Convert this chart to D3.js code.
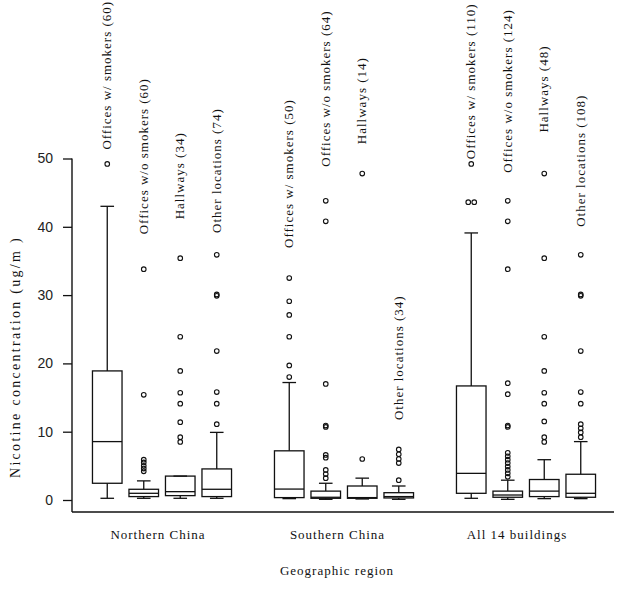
<!DOCTYPE html>
<html>
<head>
<meta charset="utf-8">
<script src="https://cdn.jsdelivr.net/npm/d3@7/dist/d3.min.js"></script>
<style>
  html, body { margin: 0; padding: 0; background: #fff; }
  svg { display: block; }
  .serif { font-family: "Liberation Serif", "Times New Roman", serif; fill: #111; }
</style>
</head>
<body>
<svg id="chart" width="624" height="589"></svg>
<script>
// ---------- data ----------
const groups = ["Northern China", "Southern China", "All 14 buildings"];
const locations = ["Offices w/ smokers", "Offices w/o smokers", "Hallways", "Other locations"];
const counts = [[60, 60, 34, 74], [50, 64, 14, 34], [110, 124, 48, 108]];

const whiskerLow  = [[0.25, 0.25, 0.25, 0.25], [0.2, 0.1, 0.15, 0.1], [0.25, 0.1, 0.2, 0.2]];
const q1          = [[2.45, 0.5, 0.64, 0.5], [0.35, 0.25, 0.25, 0.3], [0.98, 0.4, 0.5, 0.4]];
const medians     = [[8.55, 0.98, 1.22, 1.57], [1.6, 0.4, 0.35, 0.5], [3.9, 0.73, 1.3, 0.98]];
const q3          = [[18.9, 1.57, 3.5, 4.55], [7.2, 1.3, 2.05, 1.07], [16.7, 1.3, 3.0, 3.77]];
const whiskerHigh = [[43.0, 2.8, 3.5, 9.9], [17.2, 2.45, 3.2, 2.05], [39.1, 2.9, 5.9, 8.55]];

const outliers = [
  [
    [49.2],
    [4.2, 4.6, 5.0, 5.5, 5.9, 15.4, 33.8],
    [8.5, 9.2, 11.4, 14.1, 15.7, 18.9, 23.9, 35.4],
    [11.1, 14.1, 15.8, 21.8, 29.9, 30.1, 35.9]
  ],
  [
    [18.0, 19.7, 23.9, 27.1, 29.1, 32.5],
    [3.2, 3.8, 4.4, 6.2, 6.6, 10.7, 10.9, 17.0, 40.8, 43.8],
    [6.0, 47.8],
    [2.9, 5.4, 6.0, 6.7, 7.4]
  ],
  [
    [43.6, 43.6, 49.2],
    [3.4, 3.9, 4.4, 4.9, 5.4, 5.9, 6.4, 6.9, 10.7, 10.9, 15.5, 17.1, 33.8, 40.8, 43.8],
    [8.5, 9.2, 11.5, 14.1, 15.7, 18.9, 23.9, 35.4, 47.8],
    [9.2, 9.9, 10.5, 11.1, 14.1, 15.8, 21.8, 29.9, 30.1, 35.9]
  ]
];
// value (in ug/m3) at which each rotated series label begins
const labelAt = [[51.3, 38.9, 41.1, 39.1], [36.9, 48.8, 52.1, 11.7], [49.9, 47.9, 53.8, 40.0]];

const yTicks = [0, 10, 20, 30, 40, 50];
const yTitle = "Nicotine concentration (ug/m )";
const xTitle = "Geographic region";

// ---------- layout ----------
const svg = d3.select("#chart");
const axisX = 72, baseY = 512, rightX = 614;
const y = d3.scaleLinear().domain([0, 50]).range([500, 158.5]);
const xGroup = d3.scalePoint().domain(groups).range([162, 526]);
const xLabel = d3.scalePoint().domain(groups).range([158, 517]);
const xInner = d3.scaleBand().domain(locations).range([-73, 73]);
const boxW = xInner.bandwidth() * 0.81;
const capW = boxW * 0.46;
const ink = "#111";
const sw = 1.3;

// axes lines
svg.append("line").attr("x1", axisX).attr("x2", axisX).attr("y1", y(50)).attr("y2", baseY)
  .attr("stroke", ink).attr("stroke-width", 1.4);
svg.append("line").attr("x1", axisX).attr("x2", rightX).attr("y1", baseY).attr("y2", baseY)
  .attr("stroke", ink).attr("stroke-width", 1.4);

const yAxis = svg.append("g").attr("transform", `translate(${axisX},0)`)
  .call(d3.axisLeft(y).tickValues(yTicks).tickSize(9).tickPadding(10).tickSizeOuter(0));
yAxis.select(".domain").remove();
yAxis.selectAll(".tick line").attr("stroke", ink).attr("stroke-width", 1.3);
yAxis.selectAll(".tick text").attr("font-family", "'Liberation Sans', Arial, sans-serif")
  .attr("font-size", 14).attr("fill", "#222");

// boxes
const items = [];
groups.forEach((g, gi) => locations.forEach((loc, li) => {
  items.push({ g, gi, loc, li, cx: xGroup(g) + xInner(loc) + xInner.bandwidth() / 2 });
}));

const box = svg.append("g").selectAll("g").data(items).join("g");
box.append("line")  // upper whisker
  .attr("x1", d => d.cx).attr("x2", d => d.cx)
  .attr("y1", d => y(q3[d.gi][d.li])).attr("y2", d => y(whiskerHigh[d.gi][d.li]))
  .attr("stroke", ink).attr("stroke-width", sw);
box.append("line")  // lower whisker
  .attr("x1", d => d.cx).attr("x2", d => d.cx)
  .attr("y1", d => y(q1[d.gi][d.li])).attr("y2", d => y(whiskerLow[d.gi][d.li]))
  .attr("stroke", ink).attr("stroke-width", sw);
box.append("line")  // upper cap
  .attr("x1", d => d.cx - capW / 2).attr("x2", d => d.cx + capW / 2)
  .attr("y1", d => y(whiskerHigh[d.gi][d.li])).attr("y2", d => y(whiskerHigh[d.gi][d.li]))
  .attr("stroke", ink).attr("stroke-width", sw);
box.append("line")  // lower cap
  .attr("x1", d => d.cx - capW / 2).attr("x2", d => d.cx + capW / 2)
  .attr("y1", d => y(whiskerLow[d.gi][d.li])).attr("y2", d => y(whiskerLow[d.gi][d.li]))
  .attr("stroke", ink).attr("stroke-width", sw);
box.append("rect")
  .attr("x", d => d.cx - boxW / 2).attr("width", boxW)
  .attr("y", d => y(q3[d.gi][d.li]))
  .attr("height", d => y(q1[d.gi][d.li]) - y(q3[d.gi][d.li]))
  .attr("fill", "none").attr("stroke", ink).attr("stroke-width", sw);
box.append("line")  // median
  .attr("x1", d => d.cx - boxW / 2).attr("x2", d => d.cx + boxW / 2)
  .attr("y1", d => y(medians[d.gi][d.li])).attr("y2", d => y(medians[d.gi][d.li]))
  .attr("stroke", ink).attr("stroke-width", sw);

// outliers (identical values drawn side by side)
box.each(function (d) {
  const vals = outliers[d.gi][d.li];
  const seen = {};
  vals.forEach(v => { const k = v.toFixed(2); seen[k] = (seen[k] || 0) + 1; });
  const used = {};
  const pts = vals.map(v => {
    const k = v.toFixed(2);
    const n = seen[k];
    const i = used[k] = (used[k] || 0) + 1;
    return { v, dx: n > 1 ? (i - (n + 1) / 2) * 6 : 0 };
  });
  d3.select(this).selectAll("circle").data(pts).join("circle")
    .attr("cx", p => d.cx + p.dx).attr("cy", p => y(p.v)).attr("r", 2.3)
    .attr("fill", "none").attr("stroke", ink).attr("stroke-width", 1.1);
});

// rotated series labels
box.append("text").attr("class", "serif")
  .attr("transform", d => `translate(${d.cx + 4},${y(labelAt[d.gi][d.li])}) rotate(-90)`)
  .attr("font-size", 13).attr("letter-spacing", "1px")
  .text(d => `${d.loc} (${counts[d.gi][d.li]})`);

// group labels
svg.append("g").selectAll("text").data(groups).join("text").attr("class", "serif")
  .attr("x", d => xLabel(d)).attr("y", 539).attr("text-anchor", "middle")
  .attr("font-size", 13).attr("letter-spacing", "1px").text(d => d);

// axis titles
svg.append("text").attr("class", "serif").attr("x", 337).attr("y", 575)
  .attr("text-anchor", "middle").attr("font-size", 13).attr("letter-spacing", "1px").text(xTitle);
svg.append("text").attr("class", "serif")
  .attr("transform", "translate(20,357) rotate(-90)")
  .attr("text-anchor", "middle").attr("font-size", 14).attr("letter-spacing", "2.3px").text(yTitle);
</script>
</body>
</html>
